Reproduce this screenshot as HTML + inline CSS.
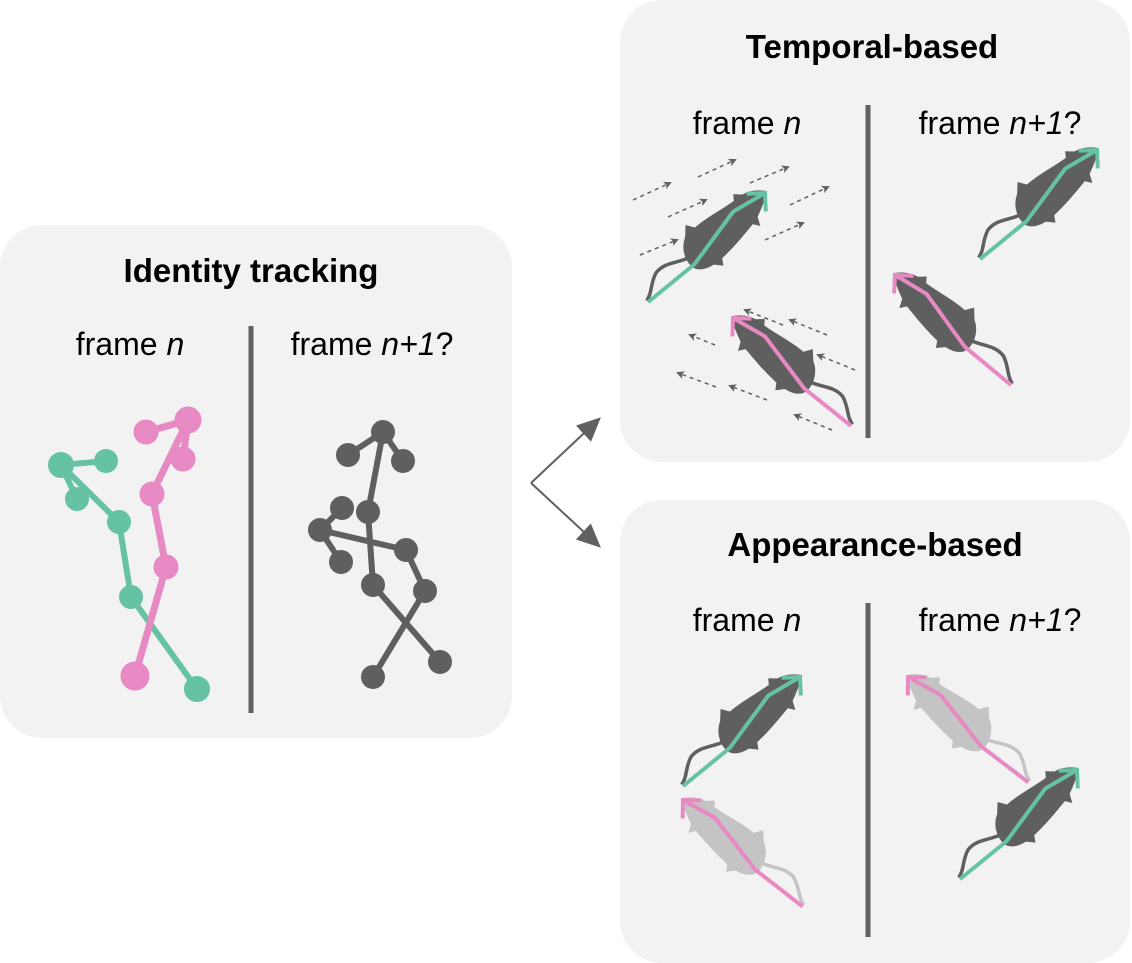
<!DOCTYPE html>
<html><head><meta charset="utf-8"><style>
html,body{margin:0;padding:0;background:#fff;}
svg{display:block;}
text{font-family:"Liberation Sans",sans-serif;fill:#000;}
</style></head><body>
<svg width="1132" height="963" viewBox="0 0 1132 963" xmlns="http://www.w3.org/2000/svg">
<defs>
<marker id="ah" markerWidth="8" markerHeight="8" refX="6" refY="4" orient="auto" markerUnits="userSpaceOnUse"><path d="M0,0 L8,4 L0,8 L2,4 Z" fill="#606060"/></marker>
<marker id="bh" markerWidth="26" markerHeight="26" refX="20" refY="13" orient="auto" markerUnits="userSpaceOnUse"><path d="M0,2 L24,13 L0,24 Z" fill="#606060"/></marker>
<g id="mbody">
<path d="M-98,-4 C-112,-8 -120,-18 -134,-16 C-146,-12 -150,-4 -160,-2" fill="none" stroke-width="3.5"/>
<path d="M2,0 C-4,-8 -10,-12 -18,-14 L-24,-20 L-28,-15 C-45,-17 -60,-22 -75,-22 L-80,-30 L-88,-22 C-100,-16 -106,-2 -102,8 C-98,14 -92,16 -86,17 L-80,24 L-76,18 C-60,18 -45,16 -30,14 L-26,20 L-22,12 C-12,8 -4,4 2,0 Z"/>
</g>
<g id="mdark" fill="#5f5f5f" stroke="#5f5f5f"><use href="#mbody"/></g>
<g id="mlight" fill="#c4c4c4" stroke="#c4c4c4"><use href="#mbody"/></g>
<path id="skel" d="M-160,0 L-100,4 L-36,-8 L0,0 M-14,-12 L0,0 L-12,14" fill="none" stroke-width="4"/>
</defs>

<rect x="0" y="225" width="512" height="513" rx="42" fill="#f2f2f2"/>
<rect x="620" y="0" width="510" height="462" rx="42" fill="#f2f2f2"/>
<rect x="620" y="500" width="510" height="463" rx="42" fill="#f2f2f2"/>

<text x="251" y="282" font-size="33" font-weight="bold" text-anchor="middle">Identity tracking</text>
<text x="872" y="58" font-size="33" font-weight="bold" text-anchor="middle">Temporal-based</text>
<text x="875" y="556" font-size="33" font-weight="bold" text-anchor="middle">Appearance-based</text>

<g font-size="32">
<text x="130" y="355" text-anchor="middle">frame <tspan font-style="italic">n</tspan></text>
<text x="372" y="355" text-anchor="middle">frame <tspan font-style="italic">n+1</tspan>?</text>
<text x="747" y="134" text-anchor="middle">frame <tspan font-style="italic">n</tspan></text>
<text x="1000" y="134" text-anchor="middle">frame <tspan font-style="italic">n+1</tspan>?</text>
<text x="747" y="631" text-anchor="middle">frame <tspan font-style="italic">n</tspan></text>
<text x="1000" y="631" text-anchor="middle">frame <tspan font-style="italic">n+1</tspan>?</text>
</g>

<g stroke="#606060" stroke-width="5">
<line x1="251" y1="326" x2="251" y2="713"/>
<line x1="868" y1="105" x2="868" y2="438"/>
<line x1="868" y1="603" x2="868" y2="937"/>
</g>

<g stroke="#606060" stroke-width="2" fill="none">
<path d="M531,483 L598,420" marker-end="url(#bh)"/>
<path d="M531,483 L598,545" marker-end="url(#bh)"/>
</g>

<g stroke="#66c2a5" stroke-width="6" fill="#66c2a5" stroke-linecap="round">
<path d="M106,461 L61,465 L77,499 M61,465 L119,522 L131,597 L197,689" fill="none"/>
<circle cx="61" cy="465" r="10"/><circle cx="106" cy="461" r="9"/><circle cx="77" cy="499" r="9"/><circle cx="119" cy="522" r="9"/><circle cx="131" cy="597" r="9"/><circle cx="197" cy="689" r="10"/>
</g>
<g stroke="#e78ac3" stroke-width="7" fill="#e78ac3" stroke-linecap="round">
<path d="M146,432 L188,420 L183,459 M188,420 L152,494 L166,567 L135,676" fill="none"/>
<circle cx="146" cy="432" r="9"/><circle cx="188" cy="420" r="10"/><circle cx="183" cy="459" r="9"/><circle cx="152" cy="494" r="9"/><circle cx="166" cy="567" r="9"/><circle cx="135" cy="676" r="11"/>
</g>
<g stroke="#5f5f5f" stroke-width="6" fill="#5f5f5f" stroke-linecap="round">
<path d="M348,455 L383,432 L403,461 M383,432 L368,512 L373,585 L440,662 M342,508 L320,530 L341,562 M320,530 L406,550 L425,591 L373,677" fill="none"/>
<circle cx="383" cy="432" r="9"/><circle cx="348" cy="455" r="9"/><circle cx="403" cy="461" r="9"/><circle cx="368" cy="512" r="9"/><circle cx="342" cy="508" r="9"/><circle cx="320" cy="530" r="9"/><circle cx="341" cy="562" r="9"/><circle cx="406" cy="550" r="9"/><circle cx="373" cy="585" r="9"/><circle cx="425" cy="591" r="9"/><circle cx="440" cy="662" r="9"/><circle cx="373" cy="677" r="9"/>
</g>

<g stroke="#606060" stroke-width="1.5" stroke-dasharray="4,4" fill="none">
<path d="M633,200 L670,183" marker-end="url(#ah)"/>
<path d="M698,177 L735,160" marker-end="url(#ah)"/>
<path d="M668,217 L706,200" marker-end="url(#ah)"/>
<path d="M750,183 L788,167" marker-end="url(#ah)"/>
<path d="M640,255 L677,240" marker-end="url(#ah)"/>
<path d="M790,205 L828,187" marker-end="url(#ah)"/>
<path d="M765,240 L803,223" marker-end="url(#ah)"/>
<path d="M783,325 L745,310" marker-end="url(#ah)"/>
<path d="M827,335 L790,320" marker-end="url(#ah)"/>
<path d="M715,345 L690,335" marker-end="url(#ah)"/>
<path d="M855,370 L818,355" marker-end="url(#ah)"/>
<path d="M716,387 L678,373" marker-end="url(#ah)"/>
<path d="M767,400 L730,386" marker-end="url(#ah)"/>
<path d="M832,430 L795,415" marker-end="url(#ah)"/>
</g>

<g transform="translate(765,193) rotate(-43)"><use href="#mdark"/><use href="#skel" stroke="#66c2a5"/></g>
<g transform="translate(733,318) rotate(-137.6) scale(1,-1)"><use href="#mdark"/><use href="#skel" stroke="#e78ac3"/></g>
<g transform="translate(1097,150) rotate(-43)"><use href="#mdark"/><use href="#skel" stroke="#66c2a5"/></g>
<g transform="translate(895,275) rotate(-136.5) scale(1,-1)"><use href="#mdark"/><use href="#skel" stroke="#e78ac3"/></g>

<g transform="translate(800,677) rotate(-43)"><use href="#mdark"/><use href="#skel" stroke="#66c2a5"/></g>
<g transform="translate(683,800) rotate(-138.3) scale(1,-1)"><use href="#mlight"/><use href="#skel" stroke="#e78ac3"/></g>
<g transform="translate(908,677) rotate(-138.8) scale(1,-1)"><use href="#mlight"/><use href="#skel" stroke="#e78ac3"/></g>
<g transform="translate(1077,770) rotate(-43)"><use href="#mdark"/><use href="#skel" stroke="#66c2a5"/></g>
</svg>
</body></html>
